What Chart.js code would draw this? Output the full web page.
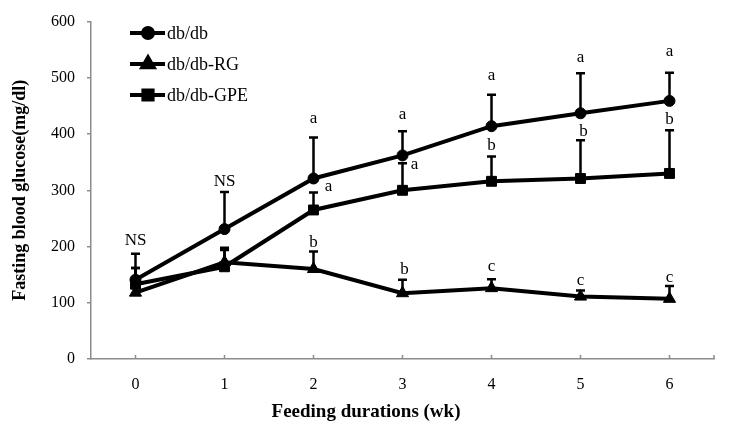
<!DOCTYPE html>
<html>
<head>
<meta charset="utf-8">
<script src="https://cdn.jsdelivr.net/npm/chart.js@4.4.0/dist/chart.umd.min.js"></script>
<style>
  html, body { margin: 0; padding: 0; background: #fff; }
  #wrap { width: 729px; height: 432px; }
</style>
</head>
<body>
<div id="wrap"><canvas id="myChart" width="729" height="432"></canvas></div>
<script>
const weeks = ['0', '1', '2', '3', '4', '5', '6'];
const dbdb = [141, 231, 321, 362, 414, 437, 459];
const dbdbRG = [118, 172, 160, 117, 126, 111, 107];
const dbdbGPE = [133, 164, 265, 300, 316, 321, 330];
// upper error (SD) for each series
const dbdbErr = [46, 66, 73, 43, 56, 71, 50];
const dbdbRGErr = [44, 26, 31, 24, 16, 11, 23];
const dbdbGPEErr = [29, 30, 31, 48, 44, 68, 77];
const yTicks = [0, 100, 200, 300, 400, 500, 600];

// significance letters: [series index, week index, text, y value, x shift px]
const marks = [
  [0, 0, 'NS', 210, 0], [0, 1, 'NS', 316, 0],
  [0, 2, 'a', 428, 0], [0, 3, 'a', 435, 0], [0, 4, 'a', 504, 0],
  [0, 5, 'a', 536, 0], [0, 6, 'a', 547, 0],
  [2, 2, 'a', 307, 15], [2, 3, 'a', 346, 12], [2, 4, 'b', 379, 0],
  [2, 5, 'b', 405, 3], [2, 6, 'b', 425, 0],
  [1, 2, 'b', 208, 0], [1, 3, 'b', 159, 2], [1, 4, 'c', 164, 0],
  [1, 5, 'c', 139, 0], [1, 6, 'c', 145, 0]
];

const errs = [dbdbErr, dbdbRGErr, dbdbGPEErr];
const serif = '"Liberation Serif", "Times New Roman", serif';

const extras = {
  id: 'extras',
  beforeDatasetsDraw(chart) {
    const {ctx, scales: {x, y}} = chart;
    ctx.save();
    ctx.strokeStyle = '#000';
    ctx.lineWidth = 2.5;
    chart.data.datasets.forEach((ds, i) => {
      ds.data.forEach((v, j) => {
        const px = x.getPixelForValue(j);
        const py = y.getPixelForValue(v);
        const pt = y.getPixelForValue(v + errs[i][j]);
        ctx.beginPath();
        ctx.moveTo(px, py);
        ctx.lineTo(px, pt);
        ctx.moveTo(px - 4.5, pt);
        ctx.lineTo(px + 4.5, pt);
        ctx.stroke();
      });
    });
    // inner x ticks
    ctx.strokeStyle = '#8c8c8c';
    ctx.lineWidth = 1.5;
    const yb = chart.chartArea.bottom;
    weeks.forEach((w, j) => {
      const px = x.getPixelForValue(j);
      ctx.beginPath();
      ctx.moveTo(px, yb);
      ctx.lineTo(px, yb - 4);
      ctx.stroke();
    });
    ctx.beginPath();
    ctx.moveTo(chart.chartArea.right, yb);
    ctx.lineTo(chart.chartArea.right, yb - 4);
    ctx.stroke();
    ctx.restore();
  },
  afterDatasetsDraw(chart) {
    const {ctx, scales: {x, y}} = chart;
    ctx.save();
    ctx.fillStyle = '#000';
    ctx.font = '17px ' + serif;
    ctx.textAlign = 'center';
    ctx.textBaseline = 'middle';
    marks.forEach(m => {
      ctx.fillText(m[2], x.getPixelForValue(m[1]) + m[4], y.getPixelForValue(m[3]));
    });
    // x axis title (sits left of the plot centre in the original)
    ctx.font = 'bold 19px ' + serif;
    ctx.fillText('Feeding durations (wk)', 366, 412);
    // legend
    const lx = 130, ly = [33, 64, 95];
    ctx.textAlign = 'left';
    ctx.font = '18px ' + serif;
    chart.data.datasets.forEach((ds, i) => {
      ctx.strokeStyle = '#000';
      ctx.lineWidth = 4;
      ctx.beginPath();
      ctx.moveTo(lx, ly[i]);
      ctx.lineTo(lx + 35, ly[i]);
      ctx.stroke();
      Chart.helpers.drawPoint(ctx, {
        pointStyle: ds.pointStyle, radius: ds.pointRadius - 0.5, borderWidth: 1
      }, lx + 18, ly[i]);
      ctx.fillText(ds.label, lx + 37, ly[i] + 1);
    });
    ctx.restore();
  }
};

new Chart(document.getElementById('myChart'), {
  type: 'line',
  data: {
    labels: weeks,
    datasets: [
      {label: 'db/db', data: dbdb, pointStyle: 'circle', pointRadius: 5.5},
      {label: 'db/db-RG', data: dbdbRG, pointStyle: 'triangle', pointRadius: 7},
      {label: 'db/db-GPE', data: dbdbGPE, pointStyle: 'rect', pointRadius: 7}
    ].map(d => Object.assign(d, {
      borderColor: '#000',
      backgroundColor: '#000',
      pointBackgroundColor: '#000',
      pointBorderColor: '#000',
      pointBorderWidth: 1,
      borderWidth: 4,
      tension: 0
    }))
  },
  options: {
    responsive: false,
    animation: false,
    layout: {padding: {top: 19, right: 15, left: 0, bottom: 0}},
    plugins: {legend: {display: false}, tooltip: {enabled: false}},
    scales: {
      x: {
        offset: true,
        grid: {display: true, offset: false, drawOnChartArea: false, drawTicks: false},
        border: {color: '#8c8c8c', width: 1.5},
        ticks: {color: '#000', font: {family: serif, size: 16}, padding: 16},
        afterFit: s => { s.height = 73; }
      },
      y: {
        min: 0, max: 600,
        afterBuildTicks: s => { s.ticks = yTicks.map(v => ({value: v})); },
        grid: {drawOnChartArea: false, tickLength: 4, color: '#8c8c8c', lineWidth: 1.5},
        border: {color: '#8c8c8c', width: 1.5},
        ticks: {color: '#000', font: {family: serif, size: 16}, padding: 12},
        title: {display: true, text: 'Fasting blood glucose(mg/dl)', color: '#000',
                font: {family: serif, size: 18, weight: 'bold'}, padding: {top: 10, bottom: 2}},
        afterFit: s => { s.width = 91; }
      }
    }
  },
  plugins: [extras]
});
</script>
</body>
</html>
